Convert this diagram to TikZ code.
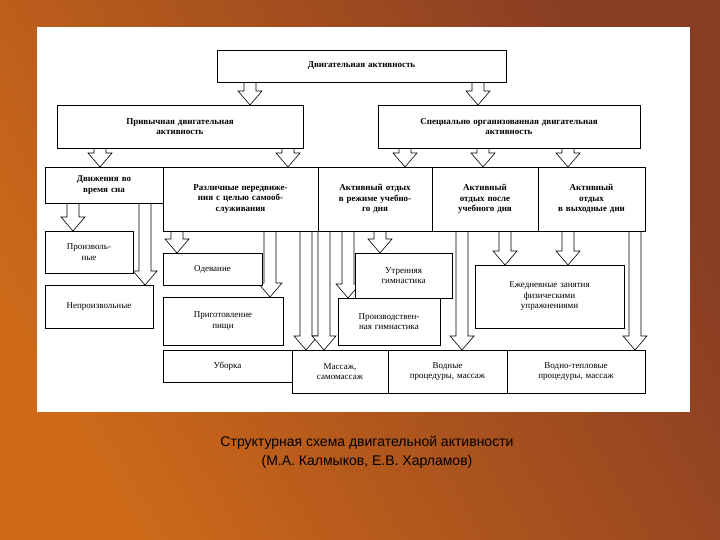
\documentclass[tikz,border=0pt]{standalone}
\usepackage{fontspec}
\setmainfont{Liberation Serif}
\newfontfamily\capfont{Liberation Sans}
\definecolor{bgA}{RGB}{205,105,25}
\definecolor{bgB}{RGB}{135,60,35}
\begin{document}
\begin{tikzpicture}[x=1pt,y=-1pt,
  box/.style={draw=black,line width=0.6pt,fill=white,inner sep=1pt,align=center,font=\fontsize{9}{10.5}\selectfont\bfseries},
  lbox/.style={box,font=\fontsize{9}{10.5}\selectfont}]
\shade[left color=bgA,right color=bgB,shading angle=120] (0,0) rectangle (720,540);
\fill[white] (37,27) rectangle (690,412);
\newcommand\bx[7][box]{\node[#1,minimum width={(#5-#3)*1pt},minimum height={(#6-#4)*1pt},text width={(#5-#3-4)*1pt}] (#2) at ({(#3+#5)/2},{(#4+#6)/2}) {#7};}
\newcommand\barr[3]{\draw[fill=white,line width=0.6pt] (#1-6,#2)--(#1-6,#3-14)--(#1-12,#3-14)--(#1,#3)--(#1+12,#3-14)--(#1+6,#3-14)--(#1+6,#2);}
% arrows
\barr{250}{82}{105}\barr{478}{82}{105}
\barr{100}{148}{167}\barr{288}{148}{167}
\barr{405}{148}{167}\barr{483}{148}{167}\barr{568}{148}{167}
\barr{73}{203}{231}\barr{145}{203}{285}
\barr{177}{231}{253}\barr{270}{231}{297}\barr{306}{231}{350}
\barr{324}{231}{350}\barr{348}{231}{298}\barr{380}{231}{253}
\barr{462}{231}{350}\barr{505}{231}{265}\barr{568}{231}{265}\barr{635}{231}{350}
% boxes
\bx{top}{217}{50}{506}{82}{Двигательная активность}
\bx{hab}{57}{105}{303}{148}{Привычная двигательная\\активность}
\bx{spec}{378}{105}{640}{148}{Специально организованная двигательная\\активность}
\bx{a}{45}{167}{163}{203}{Движения во\\время сна}
\bx{b}{163}{167}{318}{231}{Различные передвиже-\\ния с целью самооб-\\служивания}
\bx{c}{318}{167}{432}{231}{Активный отдых\\в режиме учебно-\\го дня}
\bx{d}{432}{167}{538}{231}{Активный\\отдых после\\учебного дня}
\bx{e}{538}{167}{645}{231}{Активный\\отдых\\в выходные дни}
\bx[lbox]{pr}{45}{231}{133}{273}{Произволь-\\ные}
\bx[lbox]{np}{45}{285}{153}{328}{Непроизвольные}
\bx[lbox]{od}{163}{253}{262}{285}{Одевание}
\bx[lbox]{pp}{163}{297}{283}{345}{Приготовление\\пищи}
\bx[lbox]{ub}{163}{350}{292}{382}{Уборка}
\bx[lbox]{ug}{355}{253}{452}{298}{Утренняя\\гимнастика}
\bx[lbox]{pg}{338}{298}{440}{345}{Производствен-\\ная гимнастика}
\bx[lbox]{ez}{475}{265}{624}{328}{Ежедневные занятия\\физическими\\упражнениями}
\bx[lbox]{ms}{292}{350}{388}{393}{Массаж,\\самомассаж}
\bx[lbox]{vp}{388}{350}{507}{393}{Водные\\процедуры, массаж}
\bx[lbox]{vt}{507}{350}{645}{393}{Водно-тепловые\\процедуры, массаж}
\node[font=\capfont\fontsize{14}{19}\selectfont,align=center] (cap) at (367,452) {Структурная схема двигательной активности\\(М.А. Калмыков, Е.В. Харламов)};
\end{tikzpicture}
\end{document}
